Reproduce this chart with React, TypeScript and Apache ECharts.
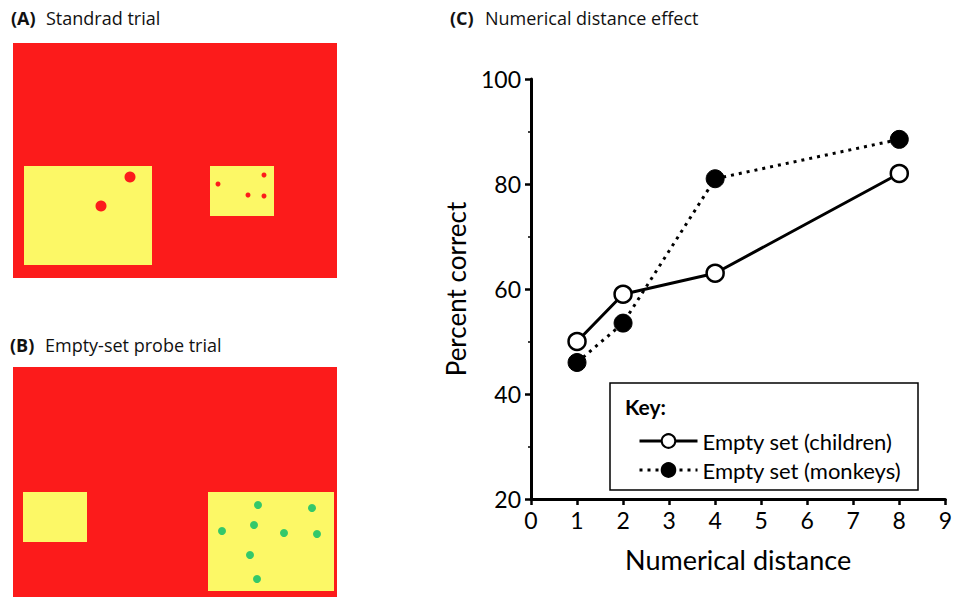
import React, { useEffect, useRef } from "react";
import * as echarts from "echarts";

// Panel C data
const distances = [1, 2, 4, 8];
const childrenPct = [50, 59, 63, 82];
const monkeysPct = [46, 53.5, 81, 88.5];
const seriesNames = ["Empty set (children)", "Empty set (monkeys)"];

// Stimulus dots (panel-local units)
const panelALargeDots = [[117, 134], [88, 163]];
const panelASmallDots = [[205, 141], [251, 132], [235, 152], [251, 153]];
const panelBDots = [[245, 138], [299, 141], [241, 158], [209, 164], [271, 166], [304, 167], [237, 188], [244, 212]];

const RED = "#fc1b1b";
const YELLOW = "#fcf866";
const GREEN = "#33c86a";
const FONT = "Lato, 'Open Sans', sans-serif";
const TFONT = "'Open Sans', sans-serif";

export default function App() {
  const ref = useRef<HTMLDivElement>(null);
  useEffect(() => {
    if (!ref.current) return;
    const chart = echarts.init(ref.current, undefined, { renderer: "svg" });
    const childrenData = distances.map((d, i) => [d, childrenPct[i]]);
    const monkeysData = distances.map((d, i) => [d, monkeysPct[i]]);

    const titleText = (x: number, y: number, tag: string, label: string) => ({
      type: "text",
      x,
      y,
      z: 5,
      style: {
        text: `{b|${tag}}{n|${label}}`,
        rich: {
          b: { fontWeight: "bold", fontSize: 18, fontFamily: TFONT, fill: "#111", width: 35 },
          n: { fontSize: 18, fontFamily: TFONT, fill: "#111" },
        },
        verticalAlign: "middle",
      },
    });

    const option: any = {
      animation: false,
      backgroundColor: "#fff",
      grid: [
        { left: 531, top: 79, width: 417, height: 420, containLabel: false },
        { left: 13, top: 43, width: 324, height: 235 },
        { left: 13, top: 367, width: 324, height: 230 },
      ],
      xAxis: [
        {
          gridIndex: 0,
          type: "value",
          min: 0,
          max: 9,
          interval: 1,
          axisLine: { show: true, lineStyle: { color: "#000", width: 3 } },
          axisTick: { show: true, length: 6, lineStyle: { color: "#000", width: 2.5 } },
          axisLabel: { fontSize: 23, color: "#000", margin: 9, fontFamily: FONT },
          splitLine: { show: false },
          name: "Numerical distance",
          nameLocation: "middle",
          nameGap: 47,
          nameTextStyle: { fontSize: 27, color: "#000", fontFamily: FONT },
        },
        { gridIndex: 1, type: "value", min: 0, max: 324, show: false },
        { gridIndex: 2, type: "value", min: 0, max: 324, show: false },
      ],
      yAxis: [
        {
          gridIndex: 0,
          type: "value",
          min: 20,
          max: 100,
          interval: 20,
          axisLine: { show: true, lineStyle: { color: "#000", width: 3 } },
          axisTick: { show: true, length: 6, lineStyle: { color: "#000", width: 2.5 } },
          minorTick: { show: true, splitNumber: 2, length: 3, lineStyle: { color: "#000", width: 1.5 } },
          axisLabel: { fontSize: 23, color: "#000", margin: 10, fontFamily: FONT },
          splitLine: { show: false },
          name: "Percent correct",
          nameLocation: "middle",
          nameGap: 62,
          nameTextStyle: { fontSize: 26, color: "#000", fontFamily: FONT },
        },
        { gridIndex: 1, type: "value", min: 0, max: 235, inverse: true, show: false },
        { gridIndex: 2, type: "value", min: 0, max: 230, inverse: true, show: false },
      ],
      legend: {
        left: 633,
        top: 425,
        orient: "vertical",
        itemWidth: 58,
        itemHeight: 17,
        itemGap: 7,
        data: seriesNames,
        lineStyle: { width: 3 },
        textStyle: { fontSize: 22, color: "#000", fontFamily: FONT },
        z: 6,
      },
      graphic: [
        { type: "rect", z: 0, shape: { x: 13, y: 43, width: 324, height: 235 }, style: { fill: RED } },
        { type: "rect", z: 0, shape: { x: 24, y: 166, width: 128, height: 99 }, style: { fill: YELLOW } },
        { type: "rect", z: 0, shape: { x: 210, y: 166, width: 64, height: 50 }, style: { fill: YELLOW } },
        { type: "rect", z: 0, shape: { x: 13, y: 367, width: 324, height: 230 }, style: { fill: RED } },
        { type: "rect", z: 0, shape: { x: 23, y: 492, width: 64, height: 50 }, style: { fill: YELLOW } },
        { type: "rect", z: 0, shape: { x: 208, y: 492, width: 126, height: 99 }, style: { fill: YELLOW } },
        titleText(11, 18, "(A)", "Standrad trial"),
        titleText(10, 345, "(B)", "Empty-set probe trial"),
        titleText(450, 18, "(C)", "Numerical distance effect"),
        {
          type: "rect",
          z: 5,
          shape: { x: 610, y: 383, width: 308, height: 107 },
          style: { fill: "#fff", stroke: "#000", lineWidth: 1.5 },
        },
        {
          type: "text",
          z: 6,
          x: 625,
          y: 406,
          style: { text: "Key:", fontSize: 21, fontWeight: "bold", fontFamily: FONT, fill: "#000", verticalAlign: "middle" },
        },
      ],
      series: [
        {
          name: seriesNames[1],
          type: "line",
          xAxisIndex: 0,
          yAxisIndex: 0,
          data: monkeysData,
          symbol: "circle",
          symbolSize: 18,
          lineStyle: { color: "#000", width: 3, type: [3, 5] },
          itemStyle: { color: "#000", borderColor: "#000", borderWidth: 1 },
          z: 2,
        },
        {
          name: seriesNames[0],
          type: "line",
          xAxisIndex: 0,
          yAxisIndex: 0,
          data: childrenData,
          symbol: "circle",
          symbolSize: 17,
          lineStyle: { color: "#000", width: 3, type: "solid" },
          itemStyle: { color: "#fff", borderColor: "#000", borderWidth: 2.5 },
          z: 3,
        },
        {
          type: "scatter",
          xAxisIndex: 1,
          yAxisIndex: 1,
          data: panelALargeDots,
          symbolSize: 11,
          itemStyle: { color: RED, opacity: 1 },
          silent: true,
        },
        {
          type: "scatter",
          xAxisIndex: 1,
          yAxisIndex: 1,
          data: panelASmallDots,
          symbolSize: 5,
          itemStyle: { color: RED, opacity: 1 },
          silent: true,
        },
        {
          type: "scatter",
          xAxisIndex: 2,
          yAxisIndex: 2,
          data: panelBDots,
          symbolSize: 8,
          itemStyle: { color: GREEN, opacity: 1 },
          silent: true,
        },
      ],
    };
    chart.setOption(option);
    return () => chart.dispose();
  }, []);
  return (
    <div
      ref={ref}
      style={{ position: "absolute", left: 0, top: 0, width: 955, height: 597, background: "#fff" }}
    />
  );
}
